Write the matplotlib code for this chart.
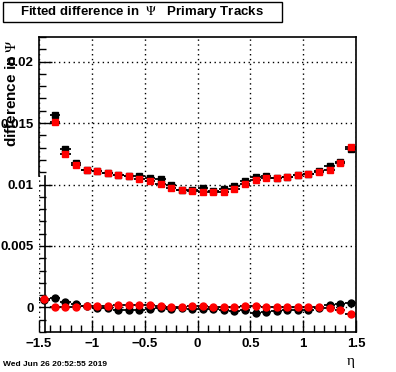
import numpy as np
import matplotlib
matplotlib.use("Agg")
import matplotlib.pyplot as plt
from matplotlib.ticker import MultipleLocator, FuncFormatter
from matplotlib.patches import Rectangle

plt.rcParams['font.family'] = ['Liberation Sans', 'DejaVu Sans']
plt.rcParams['mathtext.fontset'] = 'stix'

# bin centres in eta
eta = np.arange(-1.45, 1.5, 0.1)
nan = np.nan

# upper curves (squares)
upper_black = [nan, 0.01568, 0.01285, 0.01176, 0.01119, 0.01111, 0.01095, 0.01078, 0.01068,
               0.01068, 0.01054, 0.01041, 0.00994, 0.00956, 0.00959, 0.00970, 0.00950,
               0.00960, 0.00986, 0.01027, 0.01057, 0.01073, 0.01056, 0.01064, 0.01080,
               0.01088, 0.01111, 0.01152, 0.01182, 0.01285]
upper_red = [nan, 0.01508, 0.01247, 0.01157, 0.01119, 0.01111, 0.01095, 0.01078, 0.01068,
             0.01043, 0.01027, 0.01005, 0.00972, 0.00954, 0.00948, 0.00940, 0.00942,
             0.00943, 0.00967, 0.01008, 0.01033, 0.01049, 0.01054, 0.01062, 0.01078,
             0.01086, 0.01098, 0.01119, 0.01171, 0.01304]

# lower curves (circles)
lower_black = [0.00060, 0.00079, 0.00041, 0.00024, 0.00008, -0.00008, -0.00008, -0.00022,
               -0.00022, -0.00022, -0.00014, -0.00008, -0.00014, -0.00008, -0.00014, -0.00014,
               -0.00014, -0.00020, -0.00030, -0.00022, -0.00044, -0.00035, -0.00030, -0.00024,
               -0.00018, -0.00018, -0.00008, 0.00019, 0.00024, 0.00038]
lower_red = [0.00065, 0.00000, 0.00000, 0.00000, 0.00010, 0.00010, 0.00010, 0.00022,
             0.00022, 0.00022, 0.00022, 0.00010, 0.00005, 0.00005, 0.00014, 0.00010,
             0.00005, 0.00005, 0.00005, 0.00010, 0.00010, 0.00005, 0.00005, 0.00005,
             0.00000, 0.00000, 0.00005, -0.00008, -0.00020, -0.00057]

fig = plt.figure(figsize=(3.96, 3.72), dpi=100)
ax = fig.add_axes([39/396, 1-332/372, 317/396, 295/372])

xerr = 0.05
kw = dict(xerr=xerr, ls='none', ecolor='black', elinewidth=1.3, capsize=0)
ax.errorbar(eta, upper_black, fmt='s', color='black', ms=5, **kw)
ax.errorbar(eta, lower_black, fmt='o', color='black', ms=5, **kw)
ax.errorbar(eta, upper_red, fmt='s', color='red', ms=5, **kw)
ax.errorbar(eta, lower_red, fmt='o', color='red', ms=5, **kw)

ax.set_xlim(-1.5, 1.5)
ax.set_ylim(-0.002, 0.022)

ax.xaxis.set_major_locator(MultipleLocator(0.5))
ax.xaxis.set_minor_locator(MultipleLocator(0.1))
ax.yaxis.set_major_locator(MultipleLocator(0.005))
ax.yaxis.set_minor_locator(MultipleLocator(0.001))
fmt = FuncFormatter(lambda v, p: ('%g' % round(v, 4)).replace('-', '\u2212'))
ax.xaxis.set_major_formatter(fmt)
ax.yaxis.set_major_formatter(fmt)

ax.tick_params(which='both', direction='in', top=False, right=False, width=1,
               labelsize=9.5)
ax.tick_params(axis='y', which='major', length=9, pad=4)
ax.tick_params(axis='y', which='minor', length=5)
ax.tick_params(axis='x', which='major', length=9, pad=4)
ax.tick_params(axis='x', which='minor', length=5)
for lab in ax.get_xticklabels() + ax.get_yticklabels():
    lab.set_fontweight('bold')

ax.grid(True, which='major', color='black', ls=(0, (1, 2.5)), lw=1)

for s in ax.spines.values():
    s.set_linewidth(1.2)
# odd shifted frame piece in the lower left
x_shift = -1.5 + 6/106
ax.spines['left'].set_bounds(0.0107, 0.022)
ax.spines['bottom'].set_bounds(x_shift, 1.5)
ax.plot([x_shift, x_shift], [-0.002, 0.0107], color='black', lw=1.2, clip_on=False)

# title box
fig.patches.append(Rectangle((3/396, 1-22/372), 279/396, 20/372, transform=fig.transFigure,
                             fc='white', ec='black', lw=1))
fig.text(142/396, 1-12/372, 'Fitted difference in  $\\Psi$   Primary Tracks',
         ha='center', va='center', fontsize=9.5, fontweight='bold')

fig.text(12/396, 1-39/372, 'difference in $\\Psi$', rotation=90, ha='center', va='top',
         fontsize=11, fontweight='bold')
fig.text(351/396, 1-361/372, '\u03b7', ha='center', va='center', fontsize=11,
         family=['Liberation Serif', 'DejaVu Serif'])
fig.text(3/396, 1-365/372, 'Wed Jun 26 20:52:55 2019', ha='left', va='center',
         fontsize=6, fontweight='bold')

fig.savefig('out.png', dpi=100)
